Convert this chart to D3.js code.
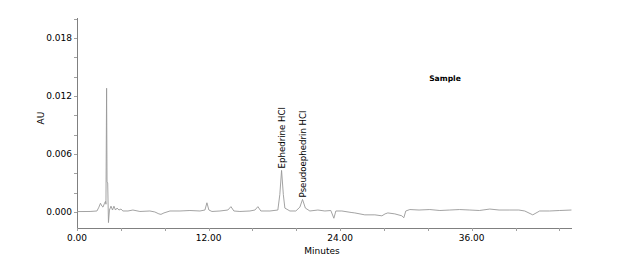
<!DOCTYPE html>
<html>
<head>
<meta charset="utf-8">
<script src="https://cdn.jsdelivr.net/npm/d3@7"></script>
<style>
  html, body { margin: 0; padding: 0; background: #fff; }
  svg { display: block; }
  text { font-family: "DejaVu Sans", Verdana, sans-serif; fill: #000; }
</style>
</head>
<body>
<div id="chart"></div>
<script>
// Retention time (minutes)
const times = [
  0.00, 1.19, 1.82, 2.00, 2.14, 2.28, 2.37, 2.51, 2.60, 2.64, 2.70, 2.74, 2.80, 2.87, 2.96,
  3.10, 3.24, 3.37, 3.51, 3.65, 3.83, 4.01, 4.19, 4.65, 5.10, 5.74, 6.65, 7.10, 7.47, 7.66,
  7.93, 8.48, 9.39, 10.30, 11.21, 11.67, 11.85, 12.03, 12.31, 13.04, 13.76, 14.04, 14.31, 14.86,
  15.77, 16.23, 16.50, 16.77, 17.60, 18.32, 18.50, 18.66, 18.82, 18.96, 19.42, 19.96, 20.33,
  20.57, 20.83, 21.24, 21.97, 22.61, 23.15, 23.43, 23.61, 24.16, 25.00, 25.34, 26.25, 27.17, 27.81,
  28.10, 28.35, 28.99, 29.63, 29.81, 29.99, 30.36, 31.20, 32.18, 33.10, 34.00, 34.90, 35.83, 36.70,
  37.65, 38.50, 39.47, 40.30, 40.84, 41.57, 42.20, 43.10, 44.03, 45.10
];
// Absorbance (AU)
const absorbance = [
  0.00004, 0.00005, 0.0001, 0.0005, 0.0009, 0.0006, 0.0005, 0.0009, 0.0011, 0.0008, 0.0128, 0.0031, 0.0030, -0.0011, 0.0002,
  0.0006, 0.0002, 0.0006, 0.0002, 0.0004, 0.0002, 0.0003, 0.0001, 0.0001, 0.0002, 0.00005, 0.0001, 0.0000, -0.0002, -0.00025,
  -0.0001, 0.0001, 0.0001, 0.00015, 0.0001, 0.0002, 0.00095, 0.0002, 0.00005, 0.0001, 0.0002, 0.00055, 0.0001, 0.00005,
  0.0001, 0.0002, 0.00055, 0.0001, 0.0001, 0.0002, 0.0018, 0.0043, 0.0018, 0.0004, 0.0001, 0.0001, 0.0005,
  0.0013, 0.0004, 0.0001, 0.0002, 0.0001, 0.00015, -0.00065, 0.0001, 0.0001, -0.00005, -0.0001, -0.0003, -0.0003, -0.0004,
  -0.0002, -0.0001, -0.0002, -0.0004, -0.0006, 0.0001, 0.00025, 0.0002, 0.00025, 0.00015, 0.0002, 0.00025, 0.0002, 0.00015,
  0.0003, 0.0002, 0.0002, 0.0002, 0.0001, -0.0003, 0.0001, 0.0001, 0.00015, 0.0002
];
// Peak annotations
const peakNames = ["Ephedrine HCl", "Pseudoephedrin HCl"];
const peakTimes = [18.66, 20.57];
const peakHeights = [0.0043, 0.0013];
// Axis ticks
const xTickValues = [0, 4, 8, 12, 16, 20, 24, 28, 32, 36, 40, 44];
const xLabelValues = [0, 12, 24, 36];
const yTickValues = [0, 0.002, 0.004, 0.006, 0.008, 0.010, 0.012, 0.014, 0.016, 0.018, 0.020];
const yLabelValues = [0, 0.006, 0.012, 0.018];
const sampleLabel = "Sample";

const W = 620, H = 272;
const mLeft = 77, mRight = 572, mTop = 18, mBottom = 228;

const svg = d3.select("#chart").append("svg").attr("width", W).attr("height", H);

const x = d3.scaleLinear().domain([0, 45.15]).range([mLeft, mRight]);
const y = d3.scaleLinear().domain([-0.00166, 0.02007]).range([mBottom, mTop]);

const axisColor = "#808080";

// Axis lines
svg.append("line").attr("x1", mLeft + 0.5).attr("x2", mLeft + 0.5).attr("y1", mTop).attr("y2", mBottom)
  .attr("stroke", axisColor).attr("stroke-width", 1);
svg.append("line").attr("x1", mLeft).attr("x2", mRight).attr("y1", mBottom + 0.5).attr("y2", mBottom + 0.5)
  .attr("stroke", axisColor).attr("stroke-width", 1);

// X ticks
svg.append("g").selectAll("line").data(xTickValues).join("line")
  .attr("x1", d => Math.round(x(d)) + 0.5).attr("x2", d => Math.round(x(d)) + 0.5)
  .attr("y1", mBottom).attr("y2", mBottom + 3)
  .attr("stroke", "#a0a0a0");
svg.append("g").selectAll("text").data(xLabelValues).join("text")
  .attr("x", d => x(d)).attr("y", mBottom + 13)
  .attr("text-anchor", "middle").attr("font-size", 9)
  .text(d => d.toFixed(2));

// Y ticks
svg.append("g").selectAll("line").data(yTickValues).join("line")
  .attr("x1", mLeft - 3).attr("x2", mLeft)
  .attr("y1", d => Math.round(y(d)) + 0.5).attr("y2", d => Math.round(y(d)) + 0.5)
  .attr("stroke", "#a0a0a0");
svg.append("g").selectAll("text").data(yLabelValues).join("text")
  .attr("x", mLeft - 5).attr("y", d => y(d) + 3.3)
  .attr("text-anchor", "end").attr("font-size", 9)
  .text(d => d.toFixed(3));

// Axis titles
svg.append("text").attr("x", 322).attr("y", 254).attr("text-anchor", "middle")
  .attr("font-size", 9).text("Minutes");
svg.append("text").attr("transform", "translate(43.5,118) rotate(-90)")
  .attr("text-anchor", "middle").attr("font-size", 9).text("AU");

// Sample label
svg.append("text").attr("x", 445).attr("y", 81).attr("text-anchor", "middle")
  .attr("font-size", 7.6).attr("font-weight", "bold").text(sampleLabel);

// Trace
const pts = times.map((t, i) => [t, absorbance[i]]);
const line = d3.line().x(d => x(d[0])).y(d => y(d[1]));
svg.append("path").datum(pts).attr("d", line)
  .attr("fill", "none").attr("stroke", "#999999").attr("stroke-width", 0.9);

// Peak labels
svg.append("g").selectAll("text").data(peakNames).join("text")
  .attr("transform", (d, i) => `translate(${x(peakTimes[i]) + 3.5},${y(peakHeights[i]) - 2}) rotate(-90)`)
  .attr("text-anchor", "start").attr("font-size", 8.6)
  .text(d => d);
</script>
</body>
</html>
